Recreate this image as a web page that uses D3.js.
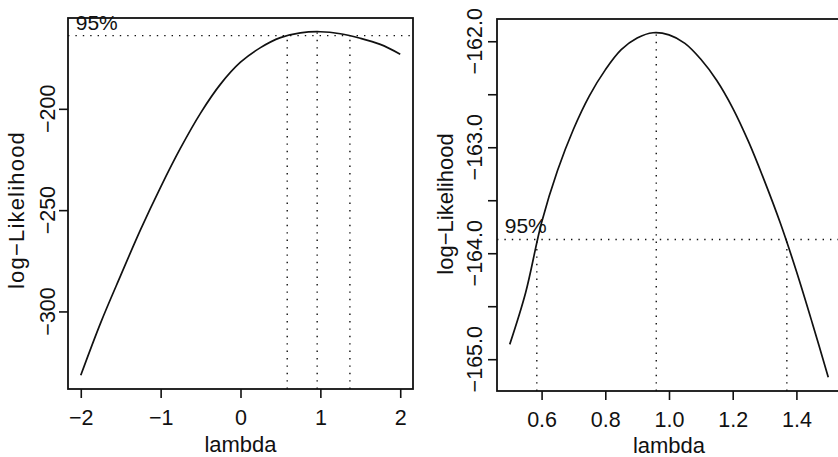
<!DOCTYPE html>
<html><head><meta charset="utf-8">
<script src="https://cdn.jsdelivr.net/npm/d3@7"></script>
<style>
body{margin:0;background:#fff}
text{font-family:"Liberation Sans",Arial,Helvetica,sans-serif;fill:#111}
</style>
</head><body>
<svg id="c" width="838" height="457"></svg>
<script>
// ---- data ----
const lambdaLeft  = [-2, -1.75, -1.5, -1.25, -1, -0.75, -0.5, -0.25, 0, 0.25, 0.5, 0.75, 1, 1.25, 1.5, 1.75, 2];
const loglikLeft  = [-331.5, -305.5, -282.2, -259.5, -238.6, -219.3, -202.1, -187.8, -177.0, -169.8, -164.86, -162.5, -161.95, -162.95, -165.17, -168.2, -173.0];
const xTicksLeft  = [-2, -1, 0, 1, 2];
const yTicksLeft  = [-300, -250, -200];
const yTickLabelsLeft = ["\u2212300", "\u2212250", "\u2212200"];

const lambdaRight = [0.5, 0.55, 0.6, 0.65, 0.7, 0.75, 0.8, 0.85, 0.9, 0.95, 1.0, 1.05, 1.1, 1.15, 1.2, 1.25, 1.3, 1.35, 1.4, 1.45, 1.5];
const loglikRight = [-164.86, -164.37, -163.71, -163.22, -162.83, -162.515, -162.27, -162.08, -161.97, -161.92, -161.94, -162.02, -162.17, -162.37, -162.63, -162.95, -163.32, -163.72, -164.17, -164.66, -165.17];
const xTicksRight = [0.6, 0.8, 1.0, 1.2, 1.4];
const xTickLabelsRight = ["0.6", "0.8", "1.0", "1.2", "1.4"];
const yTicksRight = [-165, -164.5, -164, -163.5, -163, -162.5, -162];
const yTickLabelsRight = ["\u2212165.0", "", "\u2212164.0", "", "\u2212163.0", "", "\u2212162.0"];

const lambdaHat = 0.96, ciLower = 0.585, ciUpper = 1.37;
const maxLoglik = -161.93, lim95 = -163.87;
const label95 = "95%", xLabel = "lambda", yLabel = "log\u2212Likelihood";

// ---- drawing ----
const svg = d3.select("#c");
const ink = "#111";
const dots = "1.4,6";

function ext(arr){
  const [a,b] = d3.extent(arr); const r = (b-a)*0.04; return [a-r, b+r];
}

function panel(opt){
  const x = d3.scaleLinear().domain(ext(opt.lambda)).range([opt.left, opt.right]);
  const y = d3.scaleLinear().domain(ext(opt.loglik.concat([lim95]))).range([opt.bottom, opt.top]);
  const g = svg.append("g");

  // curve
  const line = d3.line().x((d,i)=>x(opt.lambda[i])).y(d=>y(d)).curve(d3.curveCatmullRom.alpha(0.5));
  g.append("path").datum(opt.loglik).attr("d", line)
    .attr("fill","none").attr("stroke",ink).attr("stroke-width",1.7);

  // 95% line across plot region
  g.append("line").attr("x1",opt.left).attr("x2",opt.right)
    .attr("y1",y(lim95)).attr("y2",y(lim95))
    .attr("stroke",ink).attr("stroke-width",1.4).attr("stroke-dasharray",dots);
  // vertical dotted segments
  const y0 = y.range()[0];
  [[ciLower, lim95],[lambdaHat, maxLoglik],[ciUpper, lim95]].forEach(([lx,ly])=>{
    g.append("line").attr("x1",x(lx)).attr("x2",x(lx))
      .attr("y1",y0).attr("y2",y(ly))
      .attr("stroke",ink).attr("stroke-width",1.4).attr("stroke-dasharray",dots);
  });
  g.append("text").attr("x", x(opt.lambda[0]) - 5).attr("y", y(lim95) - 6)
    .attr("font-size",21).text(label95);

  // box
  g.append("rect").attr("x",opt.left).attr("y",opt.top)
    .attr("width",opt.right-opt.left).attr("height",opt.bottom-opt.top)
    .attr("fill","none").attr("stroke",ink).attr("stroke-width",1.8);

  // x axis
  const xa = g.append("g").attr("transform",`translate(0,${opt.bottom})`)
    .call(d3.axisBottom(x).tickValues(opt.xTicks).tickSize(9)
      .tickFormat((d,i)=>opt.xTickLabels ? opt.xTickLabels[i] : d3.format("")(d)));
  xa.select(".domain").remove();
  xa.attr("font-family",null).attr("font-size",null);
  xa.selectAll(".tick line").attr("stroke",ink).attr("stroke-width",1.6);
  xa.selectAll(".tick text").attr("y",36).attr("dy",0).attr("font-size",21.5)
    .attr("fill",ink);

  // y axis (ticks) + rotated labels
  const ya = g.append("g").attr("transform",`translate(${opt.left},0)`)
    .call(d3.axisLeft(y).tickValues(opt.yTicks).tickSize(9).tickFormat(""));
  ya.select(".domain").remove();
  ya.selectAll(".tick line").attr("stroke",ink).attr("stroke-width",1.6);
  opt.yTicks.forEach((v,i)=>{
    const t = opt.yTickLabels[i]; if(!t) return;
    g.append("text").attr("transform",`translate(${opt.yTickBase},${y(v)}) rotate(-90)`)
      .attr("text-anchor","middle").attr("font-size",21.5).text(t);
  });

  // axis titles
  g.append("text").attr("x",(opt.left+opt.right)/2).attr("y",opt.xlabBase)
    .attr("text-anchor","middle").attr("font-size",22).text(xLabel);
  g.append("text").attr("transform",`translate(${opt.ylabBase},${opt.ylabCenter}) rotate(-90)`)
    .attr("text-anchor","middle").attr("font-size",22)
    .attr("letter-spacing",opt.ylabSpacing).text(yLabel);
}

panel({lambda:lambdaLeft, loglik:loglikLeft, xTicks:xTicksLeft, yTicks:yTicksLeft,
  yTickLabels:yTickLabelsLeft, left:68, right:413, top:18, bottom:389,
  yTickBase:55, ylabBase:24, xlabBase:452, ylabCenter:210, ylabSpacing:1.2});
panel({lambda:lambdaRight, loglik:loglikRight, xTicks:xTicksRight, xTickLabels:xTickLabelsRight,
  yTicks:yTicksRight, yTickLabels:yTickLabelsRight, left:497, right:841, top:19, bottom:391,
  yTickBase:482, ylabBase:453, xlabBase:453, ylabCenter:204, ylabSpacing:0});
</script>
</body></html>
